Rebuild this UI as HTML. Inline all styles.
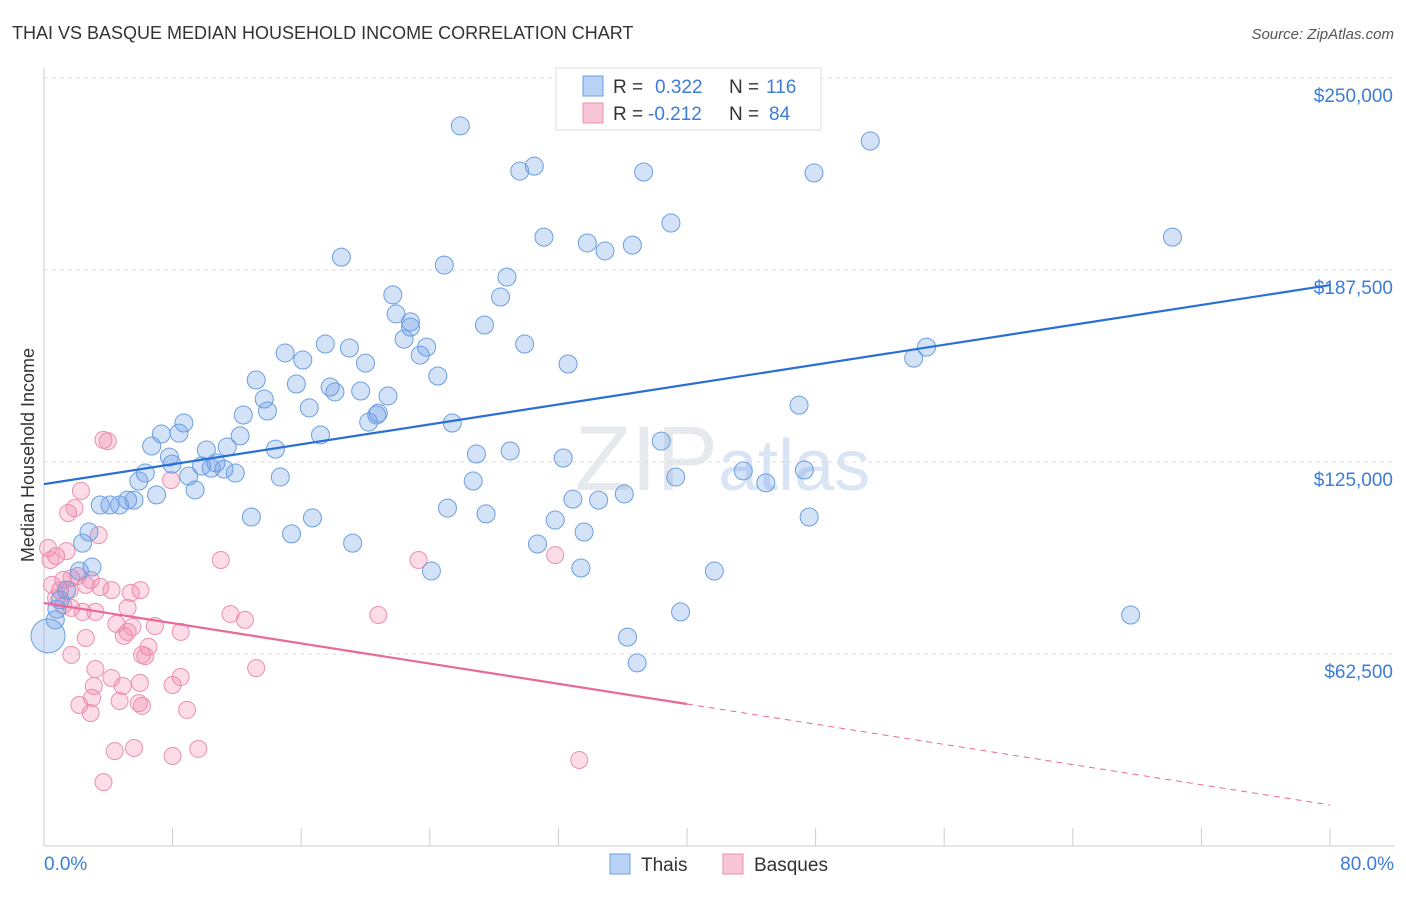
<!DOCTYPE html>
<html><head><meta charset="utf-8">
<style>
body{margin:0;background:#fff;font-family:"Liberation Sans",sans-serif;}
svg text{font-family:"Liberation Sans",sans-serif;}
</style></head>
<body>
<svg id="chart" width="1406" height="892" viewBox="0 0 1406 892" xmlns="http://www.w3.org/2000/svg">
<text x="12" y="39" font-size="18" fill="#333">THAI VS BASQUE MEDIAN HOUSEHOLD INCOME CORRELATION CHART</text>
<text x="1394" y="39" font-size="15" fill="#555" text-anchor="end" font-style="italic">Source: ZipAtlas.com</text>
<text x="718" y="490" font-size="92" fill="#e6e9ee" text-anchor="end" font-family="Liberation Serif">ZIP</text>
<text x="718" y="490" font-size="72" fill="#d9e5f5">atlas</text>
<g id="grid"></g>
<g id="axes"></g>
<g id="pts"></g>
<g id="lines"></g>
<text transform="translate(34,455) rotate(-90)" font-size="18" fill="#333" text-anchor="middle">Median Household Income</text>
<text x="44" y="870" font-size="19" fill="#3b7dd8">0.0%</text>
<text x="1394" y="870" font-size="19" fill="#3b7dd8" text-anchor="end">80.0%</text>
<g>
<rect x="556" y="68" width="265" height="62" fill="#fff" stroke="#ddd"/>
<rect x="583" y="76" width="20" height="20" fill="#b8d2f5" stroke="#6a9fe0"/>
<rect x="583" y="103" width="20" height="20" fill="#f8c6d6" stroke="#ec8fb0"/>
<text x="613" y="93" font-size="19" fill="#333">R = </text><text x="655" y="93" font-size="19" fill="#3b7dd8">0.322</text>
<text x="729" y="93" font-size="19" fill="#333">N = </text><text x="766" y="93" font-size="19" fill="#3b7dd8">116</text>
<text x="613" y="120" font-size="19" fill="#333">R = </text><text x="648" y="120" font-size="19" fill="#3b7dd8">-0.212</text>
<text x="729" y="120" font-size="19" fill="#333">N = </text><text x="769" y="120" font-size="19" fill="#3b7dd8">84</text>
</g>
<g>
<rect x="610" y="854" width="20" height="20" fill="#b8d2f5" stroke="#6a9fe0"/>
<text x="641" y="871" font-size="19" fill="#333">Thais</text>
<rect x="723" y="854" width="20" height="20" fill="#f8c6d6" stroke="#ec8fb0"/>
<text x="754" y="871" font-size="19" fill="#333">Basques</text>
</g>
</svg>
<script>
const yTicks=[62500,125000,187500,250000];
const yTickLabels=["$62,500","$125,000","$187,500","$250,000"];
const xTicks=[0,8,16,24,32,40,48,56,64,72,80];
const thaiX=[25.9,30.5,29.6,37.3,47.9,51.4,31.1,33.8,34.9,36.6,39.0,70.2,18.5,24.9,28.8,28.4,21.7,21.9,22.8,22.8,22.4,27.4,23.8,23.4,17.5,19.0,15.0,16.1,20.0,29.9,32.6,24.5,13.2,15.7,17.8,18.1,19.7,21.4,13.7,16.5,20.8,13.9,12.4,20.7,20.2,25.4,8.7,7.3,8.4,17.2,12.2,6.7,11.4,10.1,14.4,26.9,29.0,32.3,7.8,7.96,9.8,10.7,11.2,11.9,10.4,6.3,9.0,5.9,14.7,9.4,7.0,26.7,38.4,39.3,43.5,44.9,47.3,46.97,54.1,54.9,3.5,4.1,4.7,5.2,5.6,2.8,2.4,2.99,2.2,1.4,1.0,0.8,0.7,12.9,16.7,15.4,19.2,25.1,27.5,31.8,32.9,34.5,36.1,33.6,30.7,33.4,24.1,41.7,47.6,39.6,36.3,36.9,67.6,0.25];
const thaiY=[234.4,221.3,219.7,219.4,219.1,229.5,198.2,196.3,193.7,195.6,202.8,198.2,191.7,189.1,185.2,178.7,179.4,173.2,170.6,168.9,165.0,169.6,162.4,159.8,163.4,162.1,160.5,158.2,157.2,163.4,156.9,153.0,151.7,150.4,149.4,147.8,148.1,146.5,145.5,142.6,140.9,141.6,140.3,140.3,138.0,137.7,137.7,134.1,134.4,133.8,133.5,130.2,129.9,128.9,129.2,127.6,128.6,126.3,126.6,124.3,123.7,124.7,122.7,121.4,123.0,121.4,120.4,118.8,120.1,115.9,114.3,118.8,131.8,120.1,122.1,118.2,122.4,143.5,158.8,162.4,111.0,111.0,111.0,112.6,112.6,102.2,98.6,90.8,89.5,83.3,80.1,77.1,73.6,107.1,106.8,101.6,98.6,110.0,108.1,106.1,112.9,112.6,114.6,102.2,98.3,90.5,89.5,89.5,107.1,76.2,68.0,59.6,75.2,68.4];
const basqueX=[3.7,3.97,2.3,7.9,1.5,1.9,3.4,0.25,0.75,1.4,0.4,11.0,23.3,31.8,1.2,1.7,2.1,2.9,0.5,1.0,1.6,2.6,3.5,4.2,6.0,5.4,0.75,1.2,1.7,2.4,3.2,5.2,11.6,12.5,20.8,4.5,5.5,5.2,6.9,4.97,2.6,8.5,6.5,6.1,6.3,1.7,3.2,13.2,4.2,5.97,4.9,8.5,8.0,3.1,2.99,4.7,5.9,6.1,2.2,2.9,8.9,4.4,5.6,8.0,9.6,3.7,33.3];
const basqueY=[132.2,131.8,115.6,119.1,108.4,110.0,101.2,97.0,94.4,96.0,93.1,93.1,93.1,94.7,86.6,87.2,87.9,86.6,85.0,83.3,83.3,85.0,84.3,83.3,83.3,82.4,80.7,78.4,77.5,76.2,76.2,77.5,75.5,73.6,75.2,72.3,71.3,69.7,71.6,68.4,67.7,69.7,64.8,62.2,61.8,62.2,57.6,57.9,54.7,53.1,52.1,55.0,52.4,52.1,48.2,47.2,46.5,45.6,45.9,43.3,44.3,30.9,31.9,29.3,31.6,20.8,28.0];
const thaiTrend=[117.8,182.6];
const basqueTrend=[79.1,13.35];
const basqueSolidEnd=40;

const NS="http://www.w3.org/2000/svg";
const X0=44,X1=1330,Y0=846;
function sx(p){return X0+(X1-X0)*p/80;}
function sy(v){return Y0-v/62500*192;}
function mk(tag,attrs,parent){const e=document.createElementNS(NS,tag);for(const k in attrs)e.setAttribute(k,attrs[k]);document.getElementById(parent).appendChild(e);return e;}

yTicks.forEach((t,i)=>{
  const l=mk('line',{x1:44,x2:1394,y1:sy(t),y2:sy(t),stroke:'#ddd','stroke-dasharray':'4,4'},'grid');
  
  
  const tx=mk('text',{x:1393,y:sy(t)+24,'font-size':19,fill:'#3b7dd8','text-anchor':'end'},'grid');
  tx.textContent=yTickLabels[i];
  
  
});
const topGrid=mk('line',{x1:44,x2:1394,y1:78,y2:78,stroke:'#ddd','stroke-dasharray':'4,4'},'grid');


const ya=mk('line',{x1:44,x2:44,y1:68,y2:846,stroke:'#ccc'},'axes');


const xa=mk('line',{x1:44,x2:1394,y1:846,y2:846,stroke:'#ccc'},'axes');


xTicks.forEach(t=>{
  const l=mk('line',{x1:sx(t),x2:sx(t),y1:828,y2:846,stroke:'#ccc'},'axes');
  
  
});
basqueX.forEach((x,i)=>{
  const c=mk('circle',{cx:sx(x),cy:sy(basqueY[i]*1000),r:8.5,fill:'rgba(240,130,170,0.28)',stroke:'#ec8fb0','stroke-width':1},'pts');
  
  
});
thaiX.forEach((x,i)=>{
  const big=i===thaiX.length-1;
  const c=mk('circle',{cx:sx(x),cy:sy(thaiY[i]*1000),r:big?17:9,fill:'rgba(100,150,230,0.28)',stroke:'#6a9fe0','stroke-width':1},'pts');
  
  
});
const tl=mk('line',{x1:sx(0),y1:sy(thaiTrend[0]*1000),x2:sx(80),y2:sy(thaiTrend[1]*1000),stroke:'#2a6fd6','stroke-width':2.2},'lines');


const bmid=basqueTrend[0]+(basqueTrend[1]-basqueTrend[0])*basqueSolidEnd/80;
const bl=mk('line',{x1:sx(0),y1:sy(basqueTrend[0]*1000),x2:sx(basqueSolidEnd),y2:sy(bmid*1000),stroke:'#e8699a','stroke-width':2.2},'lines');


const bd=mk('line',{x1:sx(basqueSolidEnd),y1:sy(bmid*1000),x2:sx(80),y2:sy(basqueTrend[1]*1000),stroke:'#e8699a','stroke-width':1,'stroke-dasharray':'6,5'},'lines');


</script>
</body></html>
